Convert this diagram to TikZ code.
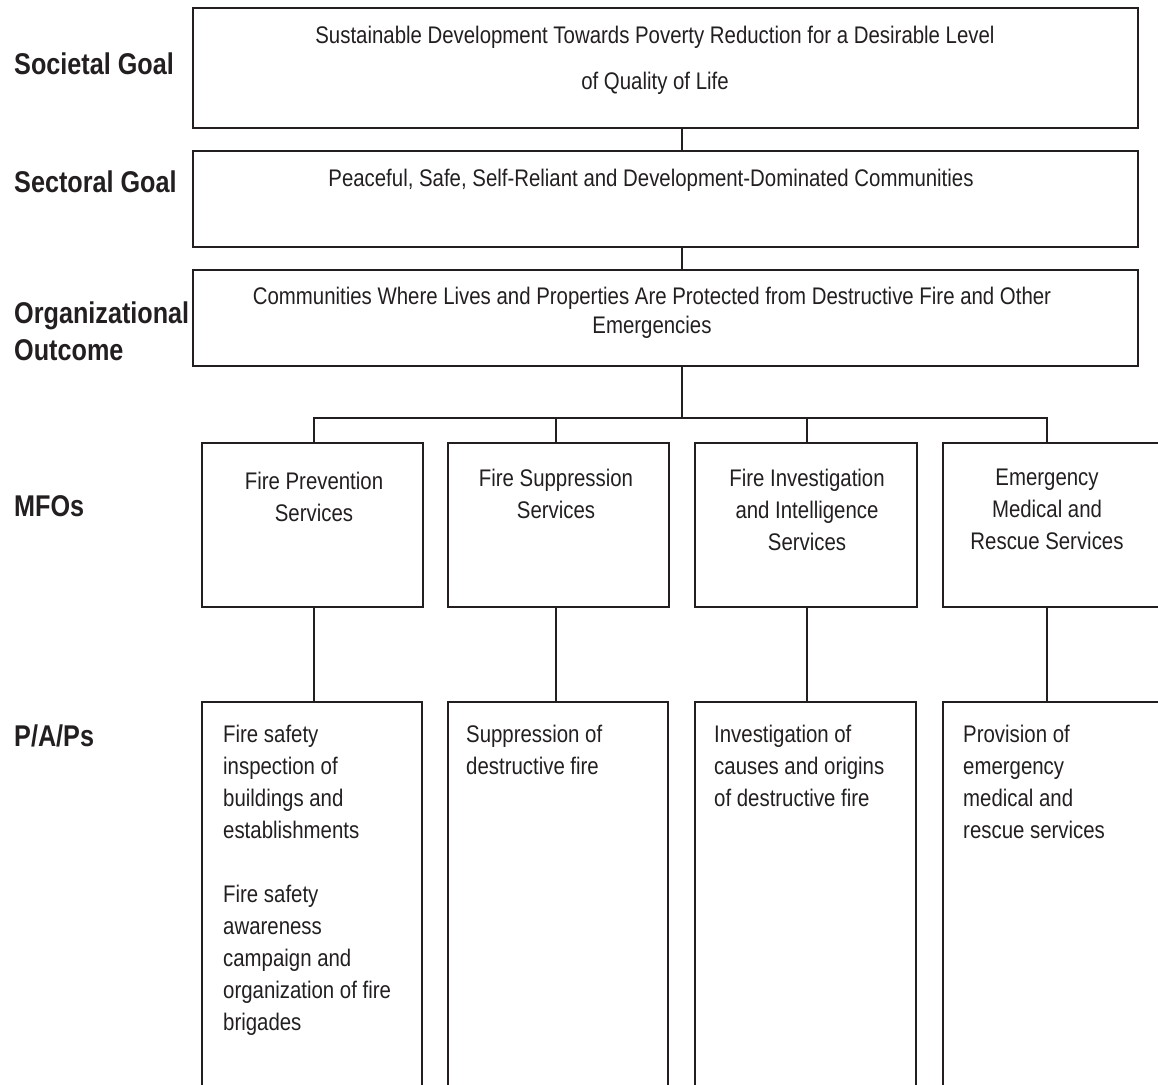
\documentclass[tikz,border=0pt]{standalone}
\usepackage{fontspec}
\setmainfont{Liberation Sans}
\newfontfamily\bodysans[FakeStretch=0.85]{Liberation Sans}
\newfontfamily\levelsans[FakeStretch=0.84]{Liberation Sans}
\usetikzlibrary{positioning}
\definecolor{ink}{HTML}{231F20}

\begin{document}
\begin{tikzpicture}[x=1pt,y=-1pt,
  box/.style={draw=ink,line width=2pt,inner sep=0pt},
  boxtext/.style={inner sep=0pt,text=ink,align=center,font=\bodysans\fontsize{24}{32}\selectfont},
  paptext/.style={boxtext,align=left,anchor=north west},
  leveltext/.style={inner sep=0pt,text=ink,align=left,font=\levelsans\bfseries\fontsize{30}{37}\selectfont},
  link/.style={draw=ink,line width=2pt}]
\useasboundingbox (0,0) rectangle (1158,1084);
\clip (0,0) rectangle (1158,1084);

% level names on the left
\node[leveltext,anchor=base west] (lsoc) at (14,74) {Societal Goal};
\node[leveltext,anchor=base west] (lsec) at (14,192) {Sectoral Goal};
\node[leveltext,anchor=north west] (lorg) at (14,302) {Organizational\\Outcome};
\node[leveltext,anchor=base west] (lmfo) at (14,516) {MFOs};
\node[leveltext,anchor=base west] (lpap) at (14,746) {P/A/Ps};

% goal boxes
\node[box,minimum width=945,minimum height=120] (g1) at (665.5,68) {};
\node[box,minimum width=945,minimum height=96] (g2) at (665.5,199) {};
\node[box,minimum width=945,minimum height=96] (g3) at (665.5,318) {};
\node[boxtext,font=\bodysans\fontsize{24}{46}\selectfont,anchor=north] (g1t) at (655,25.5)
  {Sustainable Development Towards Poverty Reduction for a Desirable Level\\of Quality of Life};
\node[boxtext,anchor=north] (g2t) at (651,168.5)
  {Peaceful, Safe, Self-Reliant and Development-Dominated Communities};
\node[boxtext,font=\bodysans\fontsize{24}{29}\selectfont,anchor=north] (g3t) at (652,286.5)
  {Communities Where Lives and Properties Are Protected from Destructive Fire and Other\\Emergencies};

% MFO boxes and P/A/P boxes
\foreach \i/\lx/\rx in {1/202/423,2/448/669,3/695/917,4/943/1164} {
  \node[box,minimum width={\rx-\lx},minimum height=164] (m\i) at ({(\lx+\rx)/2},525) {};
  \node[box,minimum width={\rx-\lx-1},minimum height=420] (p\i) at ({(\lx+\rx-1)/2},912) {};
}
\node[boxtext,anchor=north] (mt1) at (314,471.5) {Fire Prevention\\Services};
\node[boxtext,anchor=north] (mt2) at (556,469) {Fire Suppression\\Services};
\node[boxtext,anchor=north] (mt3) at (807,469) {Fire Investigation\\and Intelligence\\Services};
\node[boxtext,anchor=north] (mt4) at (1047,469) {Emergency\\Medical and\\Rescue Services};

\node[paptext] (pt1) at (223,724.5) {Fire safety\\inspection of\\buildings and\\establishments\\[32pt]Fire safety\\awareness\\campaign and\\organization of fire\\brigades};
\node[paptext] (pt2) at (466,724.5) {Suppression of\\destructive fire};
\node[paptext] (pt3) at (714,724.5) {Investigation of\\causes and origins\\of destructive fire};
\node[paptext] (pt4) at (963,724.5) {Provision of\\emergency\\medical and\\rescue services};

% connectors
\coordinate (spine) at (682,418);
\draw[link] (g1.south -| spine) -- (g2.north -| spine);
\draw[link] (g2.south -| spine) -- (g3.north -| spine);
\draw[link] (g3.south -| spine) -- (spine);
\draw[link] (m1.north -| mt1) -- (mt1 |- spine) -| (m4.north -| mt4);
\draw[link] (m2.north -| mt2) -- (mt2 |- spine);
\draw[link] (m3.north -| mt3) -- (mt3 |- spine);
\foreach \i in {1,...,4}
  \draw[link] (m\i.south -| mt\i) -- (p\i.north -| mt\i);
\end{tikzpicture}
\end{document}
